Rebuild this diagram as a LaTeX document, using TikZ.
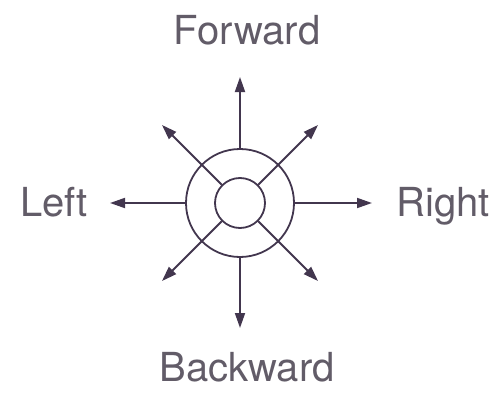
\documentclass[tikz,border=0pt]{standalone}
\usepackage{fontspec}
\setmainfont{TeX Gyre Heros}
\usetikzlibrary{arrows.meta}
\usetikzlibrary{positioning}
\definecolor{inkline}{RGB}{66,54,78}
\definecolor{inktext}{RGB}{98,92,104}
\tikzset{
  ring/.style={circle, draw=inkline, line width=1.8pt, inner sep=0pt},
  move/.style={-{Triangle[length=15pt,width=10pt]}, line width=1.8pt, draw=inkline},
  dirlabel/.style={text=inktext, anchor=base, inner sep=0pt, font=\fontsize{40}{40}\selectfont}
}
\begin{document}
\begin{tikzpicture}[x=1pt, y=1pt]
      \useasboundingbox (0,0) rectangle (496,392);
      \node [ring, minimum size=108pt] (outer) at (240,189) {};
      \node [ring, minimum size=50pt] (inner) at (240,189) {};

      \coordinate (tipF) at (240,315);
      \coordinate (tipB) at (240,64);
      \coordinate (tipR) at (372,189);
      \coordinate (tipL) at (110,189);
      \coordinate (tipFR) at (318,267);
      \coordinate (tipFL) at (162,267);
      \coordinate (tipBL) at (162,111);
      \coordinate (tipBR) at (318,111);

      \draw [move] (outer.north) -- (tipF);
      \draw [move] (outer.south) -- (tipB);
      \draw [move] (outer.east) -- (tipR);
      \draw [move] (outer.west) -- (tipL);
      \draw [move] (inner.45) -- (tipFR);
      \draw [move] (inner.135) -- (tipFL);
      \draw [move] (inner.225) -- (tipBL);
      \draw [move] (inner.315) -- (tipBR);

      \node [dirlabel] (forward) at (247,347) {Forward};
      \node [dirlabel] (backward) at (247,11) {Backward};
      \node [dirlabel] (left) at (54,176) {Left};
      \node [dirlabel] (right) at (443,176) {Right};
\end{tikzpicture}
\end{document}
